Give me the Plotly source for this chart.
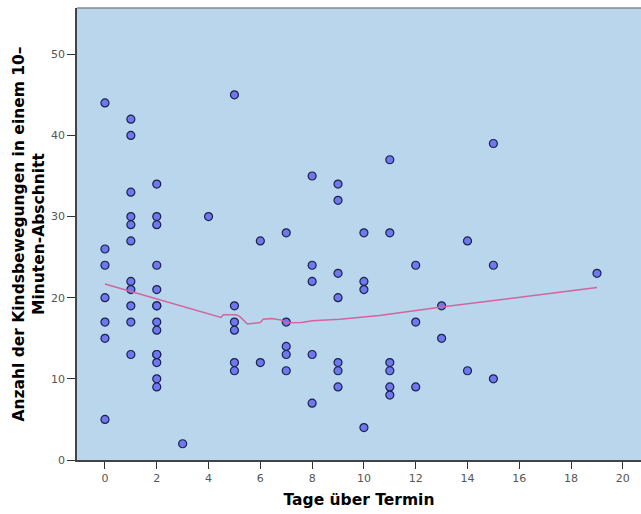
import plotly.graph_objects as go

# Days past due date and foetal movement counts per 10-minute window
days = [0]*7 + [1]*11 + [2]*14 + [3] + [4] + [5]*6 + [6]*2 + [7]*5 + [8]*5 + [9]*7 \
    + [10]*4 + [11]*6 + [12]*3 + [13]*2 + [14]*2 + [15]*3 + [19]
movements = [44, 26, 24, 20, 17, 15, 5,
             42, 40, 33, 30, 29, 27, 22, 21, 19, 17, 13,
             34, 30, 29, 24, 21, 19, 19, 17, 16, 13, 13, 12, 10, 9,
             2,
             30,
             45, 19, 17, 16, 12, 11,
             27, 12,
             28, 17, 14, 13, 11,
             35, 24, 22, 13, 7,
             34, 32, 23, 20, 12, 11, 9,
             28, 22, 21, 4,
             37, 28, 12, 11, 9, 8,
             24, 17, 9,
             19, 15,
             27, 11,
             39, 24, 10,
             23]

# Loess smoother
fit_x = [0, 4.48, 4.57, 5.06, 5.2, 5.5, 6.0, 6.11, 6.44, 6.82, 7.0, 7.6, 8.0,
         9.07, 10.6, 12.0, 13.0, 19.0]
fit_y = [21.7, 17.57, 17.9, 17.9, 17.7, 16.75, 16.95, 17.36, 17.44, 17.24, 16.91,
         16.95, 17.16, 17.36, 17.8, 18.4, 18.85, 21.27]

x_ticks = list(range(0, 21, 2))
y_ticks = list(range(0, 51, 10))

fig = go.Figure()
fig.add_trace(go.Scatter(
    x=days, y=movements, mode="markers",
    marker=dict(size=8, color="#6e78f0", line=dict(color="#1c2347", width=1.2)),
    showlegend=False, hoverinfo="x+y",
))
fig.add_trace(go.Scatter(
    x=fit_x, y=fit_y, mode="lines",
    line=dict(color="#d3649c", width=1.5),
    showlegend=False,
))

tick_font = dict(family="DejaVu Sans", size=11, color="#555555")
title_font = dict(family="DejaVu Sans", size=15.5, color="#000000")

fig.update_layout(
    width=641, height=514,
    margin=dict(l=77, r=0, t=8, b=54),
    paper_bgcolor="white",
    plot_bgcolor="#b9d6ed",
    xaxis=dict(
        range=[-1.08, 20.7], tickvals=x_ticks, ticks="outside", ticklen=7,
        tickcolor="#333333", showgrid=False, zeroline=False,
        showline=True, linecolor="#444444", linewidth=1.8,
        tickfont=tick_font,
        title=dict(text="<b>Tage über Termin</b>", font=title_font, standoff=10),
        automargin=False,
    ),
    yaxis=dict(
        range=[0, 55.7], tickvals=y_ticks, ticks="outside", ticklen=8,
        tickcolor="#333333", showgrid=False, zeroline=False,
        showline=True, linecolor="#444444", linewidth=1.8,
        tickfont=tick_font,
        title=dict(text="<b>Anzahl der Kindsbewegungen in einem 10–<br>Minuten-Abschnitt</b>",
                   font=title_font, standoff=2),
        automargin=False,
    ),
)
fig.add_shape(type="line", xref="paper", yref="paper", x0=0, x1=1, y0=1, y1=1,
              line=dict(color="#888888", width=1.5))

fig.write_html("out.html")
